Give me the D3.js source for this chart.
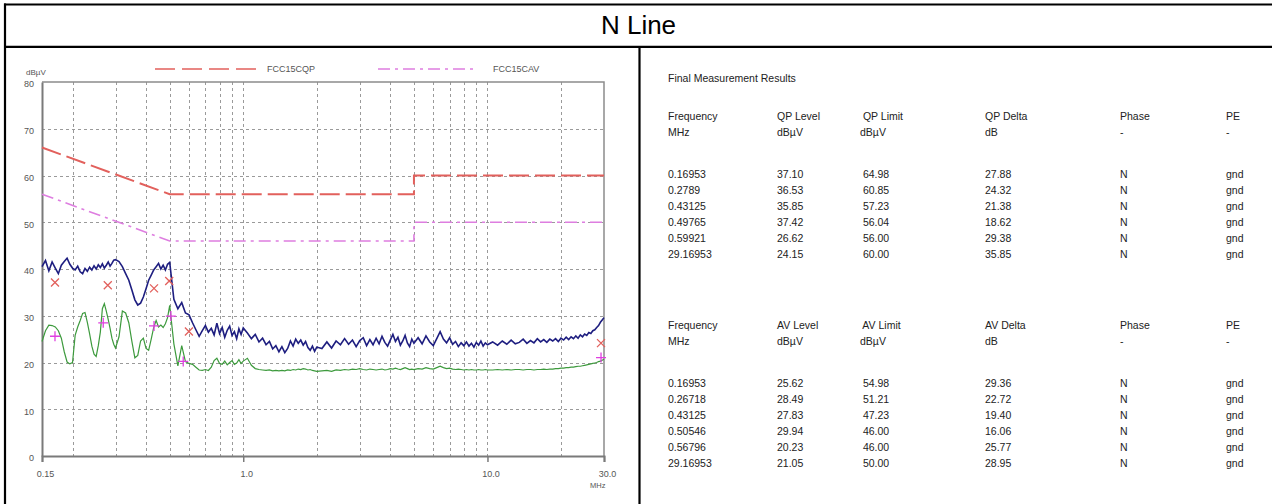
<!DOCTYPE html>
<html><head><meta charset="utf-8">
<script src="https://cdn.jsdelivr.net/npm/d3@7"></script>
<style>body{margin:0;background:#fff}svg{display:block}</style>
</head><body>
<svg id="c" width="1272" height="504"></svg>
<script>
// ---------- data ----------
const chartTitle = "N Line";
const yTicks = [0, 10, 20, 30, 40, 50, 60, 70, 80];
const yGrid = [10, 20, 30, 40, 50, 60, 70];
const xTicks = [0.15, 1, 10, 30];
const xTickLabels = ["0.15", "1.0", "10.0", "30.0"];
const xGrid = [0.2, 0.3, 0.4, 0.5, 0.6, 0.7, 0.8, 0.9, 1, 2, 3, 4, 5, 6, 7, 8, 9, 10, 20];

const sweepFreq = [
  0.150,0.155,0.160,0.165,0.170,0.175,0.180,0.185,0.190,0.195,0.200,0.205,0.210,0.215,0.220,0.225,
  0.230,0.235,0.240,0.245,0.250,0.255,0.260,0.265,0.270,0.275,0.280,0.285,0.290,0.295,0.300,
  0.31,0.32,0.33,0.34,0.35,0.36,0.37,0.38,0.39,0.40,0.41,0.42,0.43,0.44,0.45,0.46,0.47,0.48,0.49,0.50,
  0.52,0.54,0.56,0.58,0.60,0.62,0.64,0.66,0.68,0.70,0.72,0.74,0.76,0.78,0.80,0.82,0.84,0.86,0.88,0.90,
  0.92,0.94,0.96,0.98,1.00,
  1.04,1.08,1.12,1.16,1.20,1.24,1.28,1.32,1.36,1.40,1.44,1.48,1.52,1.56,1.60,1.64,1.68,1.72,1.76,1.80,
  1.84,1.88,1.92,1.96,2.00,
  2.1,2.2,2.3,2.4,2.5,2.6,2.7,2.8,2.9,3.0,3.1,3.2,3.3,3.4,3.5,3.6,3.7,3.8,3.9,4.0,4.1,4.2,4.3,4.4,4.5,
  4.6,4.7,4.8,4.9,5.0,
  5.2,5.4,5.6,5.8,6.0,6.2,6.4,6.6,6.8,7.0,7.2,7.4,7.6,7.8,8.0,8.2,8.4,8.6,8.8,9.0,9.2,9.4,9.6,9.8,10.0,
  10.5,11,11.5,12,12.5,13,13.5,14,14.5,15,15.5,16,16.5,17,17.5,18,18.5,19,19.5,20,
  20.5,21,21.5,22,22.5,23,23.5,24,24.5,25,25.5,26,26.5,27,27.5,28,28.5,29,29.5,30
];
const qpTrace = [
  40.5,41.8,39.6,41.5,40.2,39.0,40.8,41.6,42.3,41.0,40.2,39.8,40.6,39.4,39.0,40.1,
  39.5,40.4,39.8,40.7,40.0,40.9,40.3,41.1,40.2,40.8,41.5,40.6,41.2,41.9,42.0,
  41.6,40.5,39.0,37.6,35.5,33.4,32.3,32.7,34.0,35.8,37.6,38.7,39.8,40.5,41.2,40.0,40.8,39.8,41.0,41.4,
  33.5,31.5,32.8,30.6,30.2,28.5,27.0,25.6,26.8,27.9,26.5,27.3,25.9,28.4,26.2,27.5,25.4,26.9,27.8,25.8,
  26.6,25.1,27.2,26.0,27.4,
  26.3,25.1,26.0,24.4,25.2,23.8,24.5,22.9,23.6,22.3,23.4,22.1,23.0,24.6,23.5,25.0,24.1,24.8,23.7,24.5,
  23.2,22.6,23.5,22.4,23.3,
  23.0,24.4,23.1,24.6,23.8,25.1,23.9,24.8,23.4,24.7,25.3,23.6,24.9,23.8,25.2,24.0,25.6,24.3,23.5,24.8,
  26.0,24.5,25.4,23.7,24.6,25.8,24.2,23.4,25.0,24.1,
  25.3,24.0,25.7,24.4,23.6,25.1,26.6,25.0,24.2,25.3,23.9,24.5,23.4,24.2,23.6,24.4,23.5,24.1,23.3,24.3,
  23.7,24.6,23.5,24.2,23.8,
  24.4,23.7,24.6,23.9,24.8,24.0,24.3,25.0,24.1,24.7,24.2,25.1,24.4,24.9,24.3,25.0,24.6,25.1,24.5,25.2,
  24.8,25.4,24.9,25.5,25.1,25.7,25.2,25.9,25.5,26.1,25.8,26.4,26.2,26.8,27.0,27.5,27.9,28.6,29.1,29.6
];
const avTrace = [
  24.5,26.8,28.0,27.9,27.6,26.8,25.2,22.3,20.1,19.7,20.0,25.8,27.6,29.0,30.5,30.7,
  28.6,26.1,23.5,21.8,21.3,23.6,26.5,31.5,32.6,31.0,29.2,27.3,25.2,23.9,23.1,
  25.5,31.0,30.6,28.5,24.5,21.0,21.5,24.6,25.2,23.0,22.6,25.0,27.5,29.0,27.6,28.0,27.5,28.3,29.6,32.2,
  24.0,19.3,23.6,20.2,19.8,19.6,19.0,18.4,18.3,18.5,18.3,19.0,20.4,20.9,19.8,19.6,20.3,19.5,20.0,20.4,
  19.6,19.9,20.6,19.8,20.3,
  20.9,19.4,18.7,18.5,18.4,18.3,18.4,18.2,18.3,18.2,18.3,18.2,18.4,18.3,18.5,18.4,18.6,18.5,18.7,18.6,
  18.4,18.5,18.3,18.2,18.1,
  18.2,18.3,18.1,18.4,18.3,18.5,18.4,18.6,18.5,18.7,18.5,18.4,18.6,18.5,18.4,18.5,18.6,18.4,18.5,18.7,
  18.6,18.8,18.6,18.5,18.7,18.9,18.7,18.5,18.6,18.5,
  18.7,18.6,18.9,18.7,18.6,18.9,19.2,18.9,18.7,18.8,18.6,18.5,18.6,18.5,18.4,18.5,18.4,18.5,18.4,18.4,
  18.5,18.4,18.4,18.5,18.4,
  18.4,18.5,18.4,18.5,18.4,18.5,18.5,18.4,18.5,18.5,18.4,18.5,18.5,18.6,18.5,18.6,18.6,18.7,18.7,18.8,
  18.8,18.9,18.9,19.0,19.0,19.1,19.2,19.2,19.3,19.4,19.5,19.6,19.7,19.8,19.9,20.0,20.2,20.3,20.5,20.7
];

const limitFreq = [0.15, 0.5, 5, 5, 30];
const qpLimitLine = [66, 56, 56, 60, 60];
const avLimitLine = [56, 46, 46, 50, 50];
const legendNames = ["FCC15CQP", "FCC15CAV"];

const qpFreqText = ["0.16953", "0.2789", "0.43125", "0.49765", "0.59921", "29.16953"];
const qpLevel = [37.10, 36.53, 35.85, 37.42, 26.62, 24.15];
const qpLimit = [64.98, 60.85, 57.23, 56.04, 56.00, 60.00];
const qpDelta = [27.88, 24.32, 21.38, 18.62, 29.38, 35.85];
const avFreqText = ["0.16953", "0.26718", "0.43125", "0.50546", "0.56796", "29.16953"];
const avLevel = [25.62, 28.49, 27.83, 29.94, 20.23, 21.05];
const avLimit = [54.98, 51.21, 47.23, 46.00, 46.00, 50.00];
const avDelta = [29.36, 22.72, 19.40, 16.06, 25.77, 28.95];
const phaseCol = ["N", "N", "N", "N", "N", "N"];
const peCol = ["gnd", "gnd", "gnd", "gnd", "gnd", "gnd"];
const qpHeader = ["Frequency", "QP Level", " QP Limit", "QP Delta", "Phase", "PE"];
const avHeader = ["Frequency", "AV Level", " AV Limit", "AV Delta", "Phase", "PE"];
const unitRow = ["MHz", "dBµV", "dBµV", "dB", "-", "-"];

// ---------- drawing ----------
const svg = d3.select("#c");
const FONT = "'Liberation Sans', Arial, sans-serif";

// outer table frame
const frame = svg.append("g").attr("stroke", "#000").attr("stroke-width", 2.2);
frame.append("line").attr("x1", 4).attr("x2", 1272).attr("y1", 4.5).attr("y2", 4.5);
frame.append("line").attr("x1", 5).attr("x2", 5).attr("y1", 3.5).attr("y2", 504);
frame.append("line").attr("x1", 4).attr("x2", 1272).attr("y1", 46.8).attr("y2", 46.8);
frame.append("line").attr("x1", 639.5).attr("x2", 639.5).attr("y1", 46).attr("y2", 504);

svg.append("text").attr("x", 638.5).attr("y", 34).attr("text-anchor", "middle")
  .attr("font-family", FONT).attr("font-size", 26).attr("fill", "#000").text(chartTitle);

// scales
const x = d3.scaleLog().domain([0.15, 30]).range([42, 604]);
const y = d3.scaleLinear().domain([0, 80]).range([456, 82]);

// grid
const grid = svg.append("g").attr("stroke", "#9a9a9a").attr("stroke-width", 1).attr("stroke-dasharray", "3,3");
grid.selectAll(".vg").data(xGrid).join("line")
  .attr("x1", d => Math.round(x(d)) + 0.5).attr("x2", d => Math.round(x(d)) + 0.5)
  .attr("y1", y(80)).attr("y2", y(0));
grid.selectAll(".hg").data(yGrid).join("line")
  .attr("x1", x(0.15)).attr("x2", x(30))
  .attr("y1", d => Math.round(y(d)) + 0.5).attr("y2", d => Math.round(y(d)) + 0.5);

// plot border (top/right)
svg.append("path").attr("fill", "none").attr("stroke", "#8c8c8c").attr("stroke-width", 1.5)
  .attr("d", `M${x(0.15)},${y(80)}H${x(30)}V${y(0)}`);

// axes
const yAxis = svg.append("g").attr("transform", `translate(${x(0.15)},0)`)
  .call(d3.axisLeft(y).tickValues(yTicks).tickSize(0).tickPadding(8).tickFormat(d3.format("d")));
const xAxis = svg.append("g").attr("transform", `translate(0,${y(0)})`)
  .call(d3.axisBottom(x).tickValues(xTicks).tickSize(6).tickFormat((d, i) => xTickLabels[i]));
[yAxis, xAxis].forEach(a => {
  a.select(".domain").attr("stroke", "#7a7a7a").attr("stroke-width", 2);
  a.selectAll(".tick line").attr("stroke", "#7a7a7a").attr("stroke-width", 1.5);
  a.selectAll("text").attr("font-family", FONT).attr("font-size", 9).attr("fill", "#555");
});
yAxis.selectAll("text").attr("dy", "0.55em");
xAxis.selectAll("text").attr("y", 21).attr("dy", 0).attr("dx", 3);

svg.append("text").attr("x", 26).attr("y", 75).attr("font-family", FONT).attr("font-size", 8)
  .attr("fill", "#555").text("dBµV");
svg.append("text").attr("x", 590).attr("y", 488).attr("font-family", FONT).attr("font-size", 7.5)
  .attr("fill", "#555").text("MHz");

// limit lines
const lim = (vals) => d3.line().x((d, i) => x(limitFreq[i])).y(d => y(d))(vals);
svg.append("path").attr("d", lim(avLimitLine)).attr("fill", "none").attr("stroke", "#de7ee0")
  .attr("stroke-width", 1.6).attr("stroke-dasharray", "12,5,3,5");
svg.append("path").attr("d", lim(qpLimitLine)).attr("fill", "none").attr("stroke", "#e2605c")
  .attr("stroke-width", 2).attr("stroke-dasharray", "20,6");

// traces
const tr = (vals) => d3.line().x((d, i) => x(sweepFreq[i])).y(d => y(d))(vals);
svg.append("path").attr("d", tr(avTrace)).attr("fill", "none").attr("stroke", "#3d9a3d").attr("stroke-width", 1.2);
svg.append("path").attr("d", tr(qpTrace)).attr("fill", "none").attr("stroke", "#1e1e80").attr("stroke-width", 1.6);

// markers
const qpFreqNum = qpFreqText.map(Number), avFreqNum = avFreqText.map(Number);
svg.append("g").selectAll("path").data(qpLevel).join("path")
  .attr("transform", (d, i) => `translate(${x(qpFreqNum[i])},${y(d)})`)
  .attr("d", "M-4,-4L4,4M-4,4L4,-4").attr("stroke", "#e2605c").attr("stroke-width", 1.3).attr("fill", "none");
svg.append("g").selectAll("path").data(avLevel).join("path")
  .attr("transform", (d, i) => `translate(${x(avFreqNum[i])},${y(d)})`)
  .attr("d", "M-5,0H5M0,-5V5").attr("stroke", "#e040e0").attr("stroke-width", 1.3).attr("fill", "none");

// legend
svg.append("line").attr("x1", 155).attr("x2", 258).attr("y1", 69).attr("y2", 69)
  .attr("stroke", "#e2605c").attr("stroke-width", 1.6).attr("stroke-dasharray", "20,7");
svg.append("line").attr("x1", 378).attr("x2", 476).attr("y1", 69).attr("y2", 69)
  .attr("stroke", "#de7ee0").attr("stroke-width", 1.6).attr("stroke-dasharray", "12,5,3,5");
svg.append("text").attr("x", 267).attr("y", 72).attr("font-family", FONT).attr("font-size", 9)
  .attr("fill", "#555").text(legendNames[0]);
svg.append("text").attr("x", 493).attr("y", 72).attr("font-family", FONT).attr("font-size", 9)
  .attr("fill", "#555").text(legendNames[1]);

// results tables
const colX = [668, 777, 860, 985, 1120, 1226];
const tbl = svg.append("g").attr("font-family", FONT).attr("font-size", 10.5).attr("fill", "#222");
tbl.append("text").attr("x", 668).attr("y", 82).text("Final Measurement Results");
function drawTable(top, header, fText, lvl, lmt, dlt) {
  const rows = [header, unitRow];
  fText.forEach((f, i) => rows.push([f, lvl[i].toFixed(2), " " + lmt[i].toFixed(2), dlt[i].toFixed(2), phaseCol[i], peCol[i]]));
  const rowY = [top, top + 16, top + 58, top + 74, top + 90, top + 106, top + 122, top + 138];
  rows.forEach((r, ri) => {
    tbl.selectAll(null).data(r).join("text")
      .attr("x", (d, ci) => colX[ci]).attr("y", rowY[ri]).attr("xml:space", "preserve").text(d => d);
  });
}
drawTable(120, qpHeader, qpFreqText, qpLevel, qpLimit, qpDelta);
drawTable(329, avHeader, avFreqText, avLevel, avLimit, avDelta);
</script>
</body></html>
